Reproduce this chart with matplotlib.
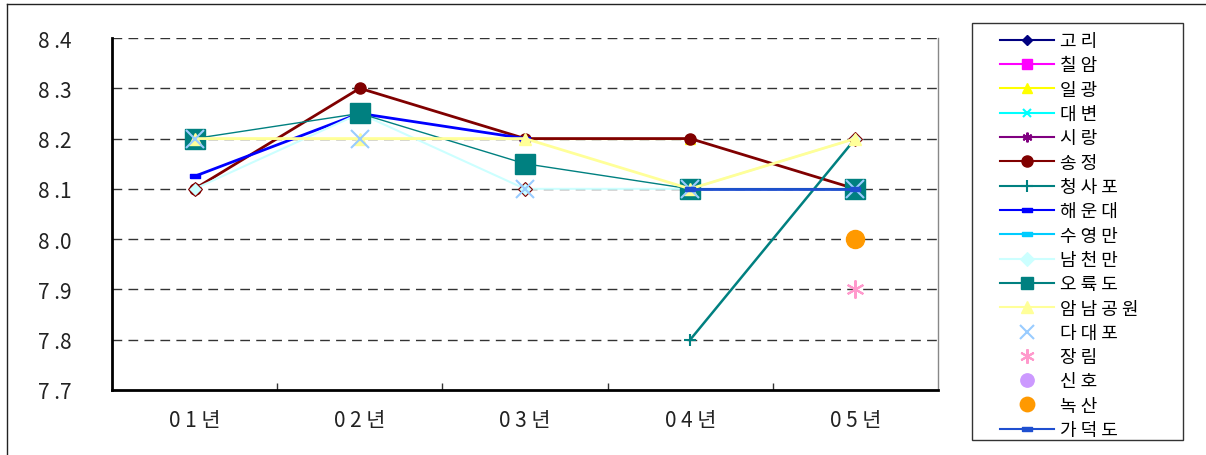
import numpy as np
import matplotlib.pyplot as plt
from matplotlib.lines import Line2D
from matplotlib.patches import Rectangle

plt.rcParams['font.family'] = ['Noto Sans CJK KR', 'DejaVu Sans']

years = ["01년", "02년", "03년", "04년", "05년"]
nan = np.nan

# pH by station and year
names = ["고리", "칠암", "일광", "대변", "시랑", "송정", "청사포", "해운대", "수영만",
         "남천만", "오륙도", "암남공원", "다대포", "장림", "신호", "녹산", "가덕도"]
gori     = [nan, nan, nan, 8.1, 8.1]
chilam   = [nan, nan, nan, nan, nan]
ilgwang  = [8.2, 8.2, 8.2, 8.2, nan]
daebyeon = [nan, nan, nan, nan, nan]
sirang   = [nan, nan, nan, nan, nan]
songjeong = [8.1, 8.3, 8.2, 8.2, 8.1]
cheongsapo = [nan, nan, nan, 7.8, 8.2]
haeundae = [8.125, 8.25, 8.2, nan, nan]
suyeongman = [nan, nan, nan, nan, nan]
namcheonman = [8.1, 8.25, 8.1, 8.1, 8.2]
oryukdo  = [8.2, 8.25, 8.15, 8.1, 8.1]
amnam    = [8.2, 8.2, 8.2, 8.1, 8.2]
dadaepo  = [8.2, 8.2, 8.1, 8.1, 8.1]
jangrim  = [nan, nan, nan, nan, 7.9]
sinho    = [nan, nan, nan, nan, nan]
noksan   = [nan, nan, nan, nan, 8.0]
gadeokdo = [nan, nan, nan, 8.1, 8.1]

series = [gori, chilam, ilgwang, daebyeon, sirang, songjeong, cheongsapo, haeundae,
          suyeongman, namcheonman, oryukdo, amnam, dadaepo, jangrim, sinho, noksan, gadeokdo]

bar = [(-1, -0.45), (1, -0.45), (1, 0.45), (-1, 0.45), (-1, -0.45)]
aster = (6, 2, 0)

# color, marker, markersize, linewidth, line on/off
styles = [
    ("#000080", "D", 5, 1.5, True),
    ("#FF00FF", "s", 6.5, 1.5, True),
    ("#FFFF00", "^", 7, 1.5, True),
    ("#00FFFF", "x", 6, 1.5, True),
    ("#800080", aster, 7, 1.5, True),
    ("#800000", "o", 8, 2.0, True),
    ("#008080", "+", 8, 1.8, True),
    ("#0000FF", bar, 7, 2.0, True),
    ("#00CCFF", bar, 7, 2.0, True),
    ("#CCFFFF", "D", 7, 1.5, True),
    ("#008080", "s", 14, 1.0, True),
    ("#FFFF99", "^", 9, 2.0, True),
    ("#99CCFF", "x", 13, 1.5, False),
    ("#FF99CC", aster, 13, 1.5, False),
    ("#CC99FF", "o", 12, 1.5, False),
    ("#FF9900", "o", 13, 1.5, False),
    ("#1F4FD0", bar, 7, 2.0, True),
]

x = np.arange(1, 6)

fig = plt.figure(figsize=(12.06, 4.56), dpi=100)
ax = fig.add_axes([112/1206, 1 - 391/456, (938 - 112)/1206, (391 - 39)/456])

handles = []
for name, vals, (c, m, ms, lw, line) in zip(names, series, styles):
    ls = "-" if line else "none"
    mec = c
    mfc = c
    if m == "x" or m == "+" or m == aster:
        mew = 1.5
    else:
        mew = 1.0
    if name == "남천만":
        mec = "#800000"
        mew = 0.8
    ax.plot(x, vals, color=c, lw=lw, ls=ls, marker=m, ms=ms, mfc=mfc, mec=mec, mew=mew)
    lh = Line2D([], [], color=c, lw=1.5, ls=ls, marker=m, ms=min(ms, 9) if line else ms * 0.8,
                mfc=mfc, mec=c, mew=mew)
    handles.append(lh)

ax.set_xlim(0.5, 5.5)
ax.set_ylim(7.7, 8.4)
yticks = np.arange(7.7, 8.41, 0.1)
ax.set_yticks(yticks)
ax.set_yticklabels([f"{v:.1f}".replace(".", " .") for v in yticks], fontsize=15, color="#222222")
ax.tick_params(axis="y", length=0, pad=29)
for yv in np.arange(7.8, 8.41, 0.1):
    ax.axhline(yv, color="#333333", lw=1.0, dashes=(7, 4.5), zorder=0)

ax.set_xticks([1.5, 2.5, 3.5, 4.5])
ax.set_xticklabels([])
ax.tick_params(axis="x", which="major", direction="in", length=5, width=1, color="#333333")
ax.set_xticks(x, minor=True)
ax.set_xticklabels([" ".join(y[:2]) + " " + y[2] for y in years], minor=True, fontsize=15, color="#222222")
ax.tick_params(axis="x", which="minor", length=0, pad=14)

ax.spines["top"].set_visible(False)
ax.spines["right"].set_color("#888888")
ax.spines["right"].set_linewidth(1.0)
ax.spines["left"].set_linewidth(2.0)
ax.spines["bottom"].set_linewidth(2.0)

# legend box drawn separately so the entries can sit indented inside it
fig.add_artist(Rectangle((972/1206, 1 - 441/456), (1183 - 972)/1206, (441 - 24)/456,
                         transform=fig.transFigure, fill=False, edgecolor="#333333", lw=1.0))
leg = fig.legend(handles, [" ".join(n) for n in names], loc="upper left",
                 bbox_to_anchor=(1000/1206, 1 - 33/456), fontsize=13, handlelength=3.0,
                 labelspacing=0.35, handletextpad=0.35, borderpad=0.0, borderaxespad=0,
                 frameon=False)

# outer chart border
fig.add_artist(Line2D([7/1206, 7/1206], [0, 1 - 5/456], color="#222222", lw=1.0))
fig.add_artist(Line2D([7/1206, 1], [1 - 5/456, 1 - 5/456], color="#222222", lw=1.0))

plt.savefig("out.png", dpi=100)
